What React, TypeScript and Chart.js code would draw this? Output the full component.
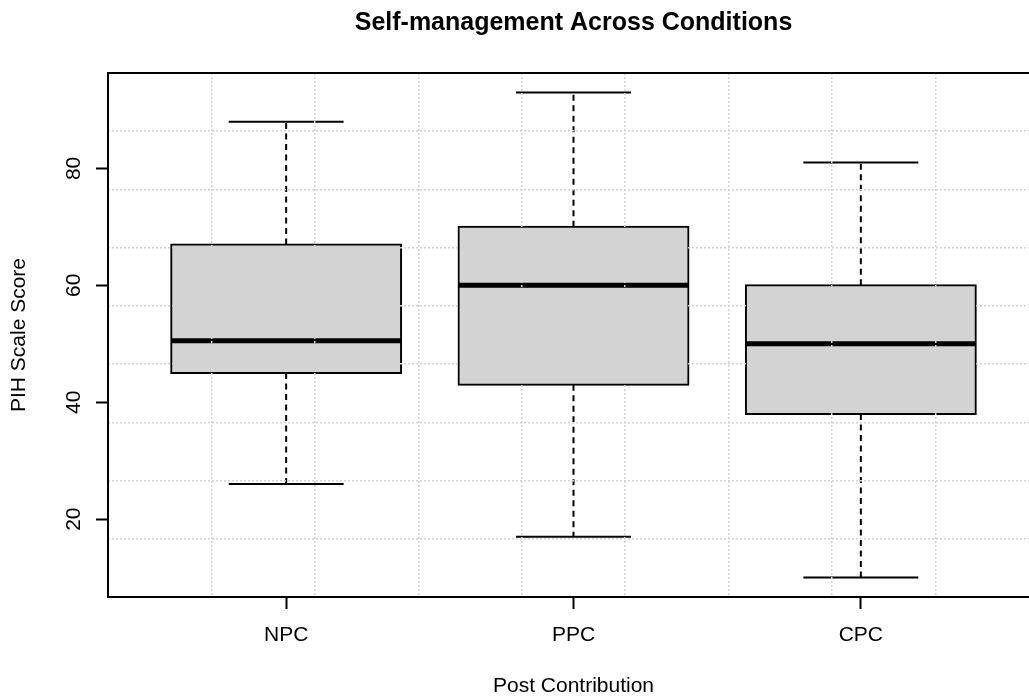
import { useEffect, useRef } from 'react';
import { Chart, registerables } from 'chart.js';

Chart.register(...registerables);

// ---- data ----
const categories = ['NPC', 'PPC', 'CPC'];
const lowerWhisker = [26, 17, 10];
const lowerQuartile = [45, 43, 38];
const medians = [50.5, 60, 50];
const upperQuartile = [67, 70, 60];
const upperWhisker = [88, 93, 81];
const yTickValues = [20, 40, 60, 80];

const chartTitle = 'Self-management Across Conditions';
const xTitle = 'Post Contribution';
const yTitle = 'PIH Scale Score';

const FONT = "'Liberation Sans', Arial, Helvetica, sans-serif";
const BOX_WIDTH = 0.8;
const CAP_WIDTH = 0.4;
const GRID_DIVISIONS = 9;
const CANVAS_W = 1147;
const CANVAS_H = 697;

export default function App() {
  const ref = useRef<HTMLCanvasElement>(null);

  useEffect(() => {
    const canvas = ref.current;
    if (!canvas) return;
    const n = categories.length;
    const dMin = Math.min(...lowerWhisker);
    const dMax = Math.max(...upperWhisker);
    const yPad = (dMax - dMin) * 0.04;
    const yMin = dMin - yPad;
    const yMax = dMax + yPad;
    const xPad = n * 0.04;
    const xMin = 0.5 - xPad;
    const xMax = n + 0.5 + xPad;
    const xGrid: number[] = [];
    const yGrid: number[] = [];
    for (let k = 1; k < GRID_DIVISIONS; k++) {
      xGrid.push(xMin + ((xMax - xMin) * k) / GRID_DIVISIONS);
      yGrid.push(yMin + ((yMax - yMin) * k) / GRID_DIVISIONS);
    }

    const boxes = categories.map((_, i) => ({ x: i + 1, y: [lowerQuartile[i], upperQuartile[i]] }));
    const medianPts: any[] = [];
    const whiskerPts: any[] = [];
    const capPts: any[] = [];
    categories.forEach((_, i) => {
      const c = i + 1;
      medianPts.push({ x: c - BOX_WIDTH / 2, y: medians[i] }, { x: c + BOX_WIDTH / 2, y: medians[i] }, { x: c + 0.5, y: null });
      whiskerPts.push(
        { x: c, y: upperQuartile[i] }, { x: c, y: upperWhisker[i] }, { x: c, y: null },
        { x: c, y: lowerQuartile[i] }, { x: c, y: lowerWhisker[i] }, { x: c, y: null },
      );
      capPts.push(
        { x: c - CAP_WIDTH / 2, y: upperWhisker[i] }, { x: c + CAP_WIDTH / 2, y: upperWhisker[i] }, { x: c + 0.5, y: null },
        { x: c - CAP_WIDTH / 2, y: lowerWhisker[i] }, { x: c + CAP_WIDTH / 2, y: lowerWhisker[i] }, { x: c + 0.5, y: null },
      );
    });

    const lineBase = {
      type: 'line' as const,
      borderColor: '#000',
      pointRadius: 0,
      pointHoverRadius: 0,
      fill: false,
      tension: 0,
      spanGaps: false,
      borderCapStyle: 'butt' as const,
    };

    const framePlugin = {
      id: 'rframe',
      afterDraw(chart: any) {
        const { ctx, chartArea } = chart;
        const ys = chart.scales.y;
        ctx.save();
        ctx.strokeStyle = '#000';
        ctx.lineWidth = 2;
        ctx.strokeRect(chartArea.left, chartArea.top, chartArea.right - chartArea.left, chartArea.bottom - chartArea.top);
        // rotated y tick labels (R style, parallel to axis)
        ctx.fillStyle = '#000';
        ctx.font = `21px ${FONT}`;
        ctx.textAlign = 'center';
        ctx.textBaseline = 'alphabetic';
        ys.ticks.forEach((t: any) => {
          const py = ys.getPixelForValue(t.value);
          ctx.save();
          ctx.translate(79.5, py);
          ctx.rotate(-Math.PI / 2);
          ctx.fillText(String(t.value), 0, 0);
          ctx.restore();
        });
        ctx.restore();
      },
    };

    const chart = new Chart(canvas, {
      type: 'bar',
      data: {
        datasets: [
          {
            ...lineBase,
            data: medianPts,
            borderWidth: 5,
            order: 0,
          } as any,
          {
            type: 'bar',
            data: boxes as any,
            backgroundColor: '#D3D3D3',
            borderColor: '#000',
            borderWidth: 2,
            borderSkipped: false,
            inflateAmount: 1,
            categoryPercentage: 1,
            barPercentage: BOX_WIDTH,
            order: 1,
          } as any,
          {
            ...lineBase,
            data: whiskerPts,
            borderWidth: 2,
            borderDash: [6, 4.5],
            order: 2,
          } as any,
          {
            ...lineBase,
            data: capPts,
            borderWidth: 2,
            order: 2,
          } as any,
        ],
      },
      options: {
        responsive: false,
        animation: false,
        devicePixelRatio: 1,
        events: [],
        layout: { padding: 0 },
        plugins: {
          legend: { display: false },
          tooltip: { enabled: false },
          title: {
            display: true,
            text: chartTitle,
            color: '#000',
            font: { family: FONT, size: 25, weight: 'bold', lineHeight: 1.2 },
            padding: { top: 8, bottom: 35 },
          },
        },
        scales: {
          x: {
            type: 'linear',
            position: 'bottom',
            min: xMin,
            max: xMax,
            offset: false,
            bounds: 'data',
            afterBuildTicks: (s: any) => {
              s.ticks = categories.map((_, i) => ({ value: i + 1 }));
            },
            afterFit: (s: any) => {
              s.height = 100;
            },
            ticks: {
              autoSkip: false,
              maxRotation: 0,
              minRotation: 0,
              padding: 14,
              color: '#000',
              font: { family: FONT, size: 21 },
              callback: (v: any) => categories[Math.round(Number(v)) - 1] ?? '',
            },
            grid: {
              display: true,
              offset: false,
              drawOnChartArea: false,
              drawTicks: true,
              tickLength: 12,
              tickColor: '#000',
              tickWidth: 2,
            },
            border: { display: false },
            title: {
              display: true,
              text: xTitle,
              color: '#000',
              font: { family: FONT, size: 21, lineHeight: 1 },
              padding: { top: 0, bottom: 0 },
            },
          },
          y: {
            type: 'linear',
            position: 'left',
            min: yMin,
            max: yMax,
            bounds: 'data',
            beginAtZero: false,
            afterBuildTicks: (s: any) => {
              s.ticks = yTickValues.map((v) => ({ value: v }));
            },
            afterFit: (s: any) => {
              s.width = 108;
            },
            ticks: { display: false },
            grid: {
              display: true,
              drawOnChartArea: false,
              drawTicks: true,
              tickLength: 12,
              tickColor: '#000',
              tickWidth: 2,
            },
            border: { display: false },
            title: {
              display: true,
              text: yTitle,
              color: '#000',
              font: { family: FONT, size: 21, lineHeight: 1 },
              padding: { top: 9, bottom: 0 },
            },
          },
          xg: {
            type: 'linear',
            position: 'top',
            min: xMin,
            max: xMax,
            offset: false,
            bounds: 'data',
            afterBuildTicks: (s: any) => {
              s.ticks = xGrid.map((v) => ({ value: v }));
            },
            afterFit: (s: any) => {
              s.height = 0;
            },
            ticks: { display: false },
            grid: {
              display: true,
              offset: false,
              drawOnChartArea: true,
              drawTicks: false,
              color: '#D3D3D3',
              lineWidth: 1.5,
              borderDash: [2, 2],
              z: 1,
            } as any,
            border: { display: false, dash: [2, 2] },
          },
          yg: {
            type: 'linear',
            position: 'right',
            min: yMin,
            max: yMax,
            bounds: 'data',
            beginAtZero: false,
            afterBuildTicks: (s: any) => {
              s.ticks = yGrid.map((v) => ({ value: v }));
            },
            afterFit: (s: any) => {
              s.width = 108;
            },
            ticks: { display: false },
            grid: {
              display: true,
              drawOnChartArea: true,
              drawTicks: false,
              color: '#D3D3D3',
              lineWidth: 1.5,
              borderDash: [2, 2],
              z: 1,
            } as any,
            border: { display: false, dash: [2, 2] },
          },
        },
      } as any,
      plugins: [framePlugin],
    });

    return () => chart.destroy();
  }, []);

  return (
    <div
      style={{
        position: 'fixed',
        left: 0,
        top: 0,
        width: 1029,
        height: 697,
        overflow: 'hidden',
        background: '#fff',
      }}
    >
      <canvas
        ref={ref}
        width={CANVAS_W}
        height={CANVAS_H}
        style={{ width: CANVAS_W, height: CANVAS_H, display: 'block' }}
      />
    </div>
  );
}
